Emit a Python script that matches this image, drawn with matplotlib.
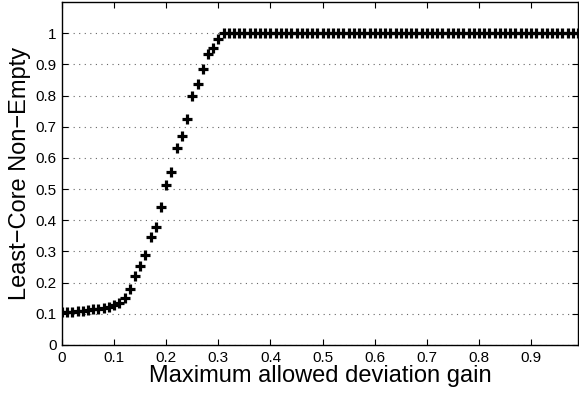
import numpy as np
import matplotlib
matplotlib.use("Agg")
import matplotlib.pyplot as plt

plt.rcParams['font.family'] = ['Liberation Sans', 'DejaVu Sans']

# fraction of trials where the least-core is non-empty, per allowed gain
gain = np.round(np.arange(0, 1.0, 0.01), 2)
nonempty = [
    0.105, 0.106, 0.107, 0.109, 0.110, 0.112, 0.114, 0.116, 0.119, 0.122,
    0.127, 0.135, 0.152, 0.180, 0.220, 0.254, 0.288, 0.345, 0.380, 0.442,
    0.512, 0.556, 0.632, 0.670, 0.724, 0.800, 0.836, 0.884, 0.932, 0.953,
    0.981, 1.0, 1.0, 1.0, 1.0, 1.0, 1.0, 1.0, 1.0, 1.0,
    1.0, 1.0, 1.0, 1.0, 1.0, 1.0, 1.0, 1.0, 1.0, 1.0,
    1.0, 1.0, 1.0, 1.0, 1.0, 1.0, 1.0, 1.0, 1.0, 1.0,
    1.0, 1.0, 1.0, 1.0, 1.0, 1.0, 1.0, 1.0, 1.0, 1.0,
    1.0, 1.0, 1.0, 1.0, 1.0, 1.0, 1.0, 1.0, 1.0, 1.0,
    1.0, 1.0, 1.0, 1.0, 1.0, 1.0, 1.0, 1.0, 1.0, 1.0,
    1.0, 1.0, 1.0, 1.0, 1.0, 1.0, 1.0, 1.0, 1.0, 1.0,
]
xticks = [0, 0.1, 0.2, 0.3, 0.4, 0.5, 0.6, 0.7, 0.8, 0.9]
xticklabels = ['0', '0.1', '0.2', '0.3', '0.4', '0.5', '0.6', '0.7', '0.8', '0.9']
yticks = [0, 0.1, 0.2, 0.3, 0.4, 0.5, 0.6, 0.7, 0.8, 0.9, 1.0]
yticklabels = ['0', '0.1', '0.2', '0.3', '0.4', '0.5', '0.6', '0.7', '0.8', '0.9', '1']

fig = plt.figure(figsize=(5.79, 3.95), dpi=100)
ax = fig.add_axes([62 / 579, 50 / 395, 516 / 579, 343 / 395])

ax.plot(gain, nonempty, linestyle='none', marker='+', color='black',
        markersize=7, markeredgewidth=2.3)

ax.set_xlim(0, 0.99)
ax.set_ylim(0, 1.1)
ax.set_xticks(xticks)
ax.set_xticklabels(xticklabels)
ax.set_yticks(yticks)
ax.set_yticklabels(yticklabels)
ax.tick_params(direction='in', top=True, right=True, length=4, width=0.8,
               labelsize=11, pad=4)
ax.yaxis.grid(True, linestyle=(0, (1, 4)), color='#666666', linewidth=0.8)
ax.set_axisbelow(True)
for s in ax.spines.values():
    s.set_linewidth(1.0)

ax.set_xlabel('Maximum allowed deviation gain', fontsize=17, labelpad=0)
ax.set_ylabel('Least\u2212Core Non\u2212Empty', fontsize=17, labelpad=3)

fig.savefig('out.png', dpi=100)
